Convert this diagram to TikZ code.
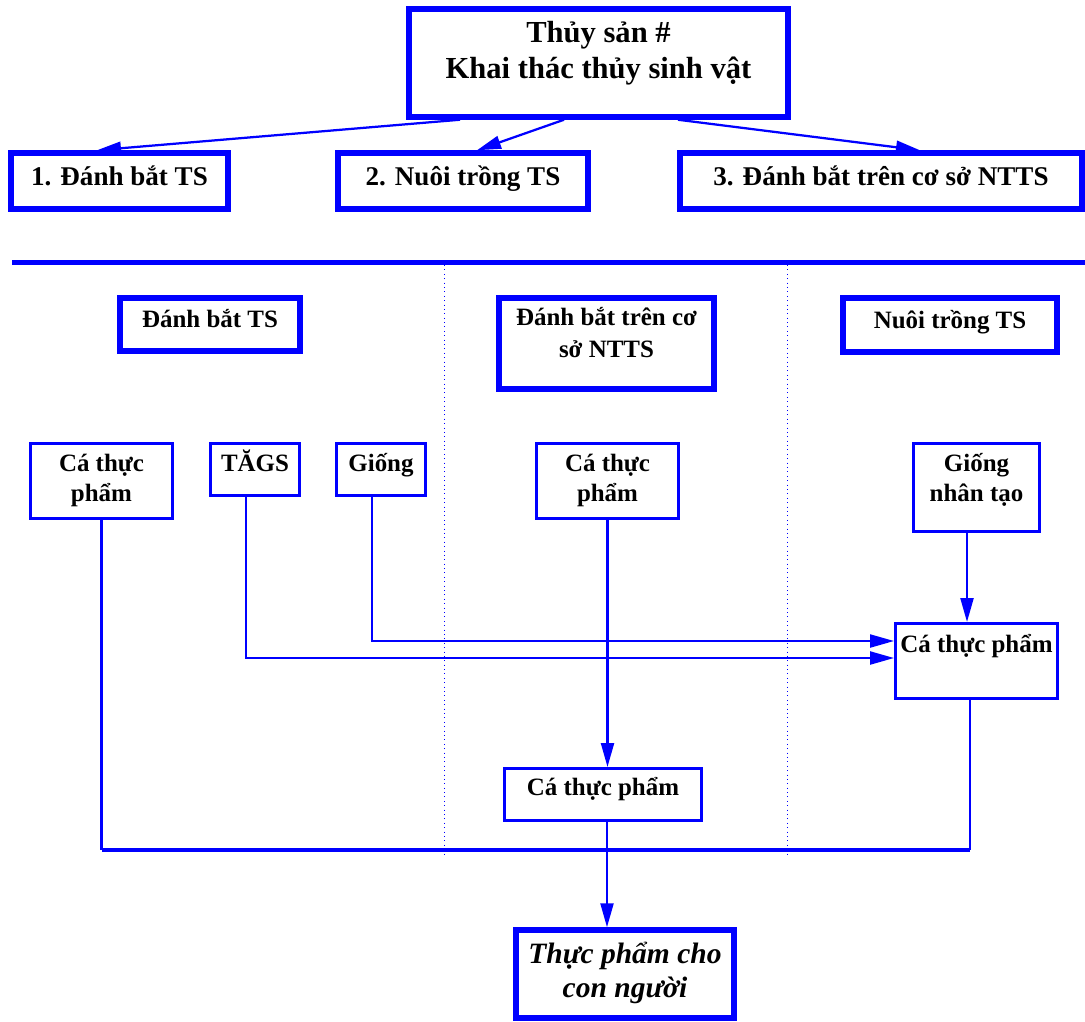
\documentclass[tikz,border=0pt]{standalone}
\usepackage{fontspec}
\setmainfont{Liberation Serif}
\usetikzlibrary{arrows.meta}

\begin{document}
\begin{tikzpicture}[x=0.02cm,y=-0.02cm,
        thickbox/.style={draw=blue,line width=0.11cm,fill=white,inner sep=0pt,align=center},
        thinbox/.style={draw=blue,line width=0.06cm,fill=white,inner sep=0pt,align=center},
        titlefont/.style={font=\fontsize{17.4}{20.5}\selectfont\bfseries},
        headfont/.style={font=\fontsize{15.4}{18}\selectfont\bfseries},
        itemfont/.style={font=\fontsize{14.2}{17}\selectfont\bfseries},
        link/.style={draw=blue,line width=0.045cm},
        arr/.style={link,-{Triangle[length=0.48cm,width=0.26cm]}},
        lanes/.style={draw=blue,line width=0.5pt,dotted}]
        \useasboundingbox (0,0) rectangle (1085,1021);

        \node[thickbox,titlefont,minimum width=7.58cm,text height=1.40cm,text depth=0.76cm] (top) at (598.5,63) {Thủy sản \#\\Khai thác thủy sinh vật};
        \node[thickbox,headfont,minimum width=4.34cm,text height=0.64cm,text depth=0.48cm] (fish) at (119.5,181) {1. Đánh bắt TS};
        \node[thickbox,headfont,minimum width=5.0cm,text height=0.64cm,text depth=0.48cm] (farm) at (463,181) {2. Nuôi trồng TS};
        \node[thickbox,headfont,minimum width=8.04cm,text height=0.64cm,text depth=0.48cm] (base) at (881,181) {3. Đánh bắt trên cơ sở NTTS};

        \draw[arr] ([xshift=-2.77cm]top.south) -- ([xshift=-0.45cm]fish.north);
        \draw[arr] ([xshift=-0.69cm]top.south) -- ([xshift=0.28cm]farm.north);
        \draw[arr] ([xshift=1.59cm]top.south) -- ([xshift=0.78cm]base.north);

        \draw[blue,line width=0.1cm] (12,262) -- (1085,262);
        \draw[lanes] (444.5,265) -- (444.5,857);
        \draw[lanes] (787,265) -- (787,857);

        \node[thickbox,itemfont,minimum width=3.6cm,text height=0.58cm,text depth=0.48cm] (catch) at (210,324.5) {Đánh bắt TS};
        \node[thickbox,itemfont,font=\fontsize{14.2}{18.2}\selectfont\bfseries,minimum width=4.3cm,text height=1.18cm,text depth=0.64cm] (mixed) at (606.5,343.5) {Đánh bắt trên cơ\\sở NTTS};
        \node[thickbox,itemfont,minimum width=4.28cm,text height=0.6cm,text depth=0.48cm] (culture) at (950,325) {Nuôi trồng TS};

        \node[thinbox,itemfont,minimum width=2.84cm,text height=1.15cm,text depth=0.35cm] (caA) at (101.5,481) {Cá thực\\phẩm};
        \node[thinbox,itemfont,minimum width=1.78cm,text height=0.55cm,text depth=0.49cm] (tags) at (255,469.5) {TĂGS};
        \node[thinbox,itemfont,minimum width=1.78cm,text height=0.55cm,text depth=0.49cm] (gioA) at (381,469.5) {Giống};
        \node[thinbox,itemfont,minimum width=2.84cm,text height=1.15cm,text depth=0.35cm] (caB) at (607.5,481) {Cá thực\\phẩm};
        \node[thinbox,itemfont,minimum width=2.52cm,text height=1.15cm,text depth=0.61cm] (gioC) at (976.5,487.5) {Giống\\nhân tạo};
        \node[thinbox,itemfont,minimum width=3.24cm,text height=0.57cm,text depth=0.93cm] (caC) at (976.5,661) {Cá thực phẩm};
        \node[thinbox,itemfont,minimum width=3.94cm,text height=0.53cm,text depth=0.51cm] (caD) at (603,794.5) {Cá thực phẩm};
        \node[thickbox,font=\fontsize{16.8}{19.3}\selectfont\bfseries\itshape,minimum width=4.36cm,text height=1.34cm,text depth=0.42cm] (food) at (625,974) {Thực phẩm cho\\con người};

        \coordinate (bar) at (607,850);

        \draw[arr] ([xshift=-0.18cm]gioA.south) |- ([yshift=0.4cm]caC.west);
        \draw[arr] ([xshift=-0.18cm]tags.south) |- ([yshift=0.06cm]caC.west);
        \draw[arr] ([xshift=-0.19cm]gioC.south) -- ([xshift=-0.19cm]caC.north);
        \draw[arr] (caB.south) -- (caB.south |- caD.north);
        \draw[link] (caA.south) -- (caA.south |- bar);
        \draw[link] ([xshift=-0.13cm]caC.south) -- ([xshift=-0.13cm]caC.south |- bar);
        \draw[link,line width=0.065cm] (caA.south |- bar) -- ([xshift=-0.13cm]caC.south |- bar);
        \draw[arr] (caD.south -| bar) -- (bar |- food.north);
    \end{tikzpicture}
\end{document}
